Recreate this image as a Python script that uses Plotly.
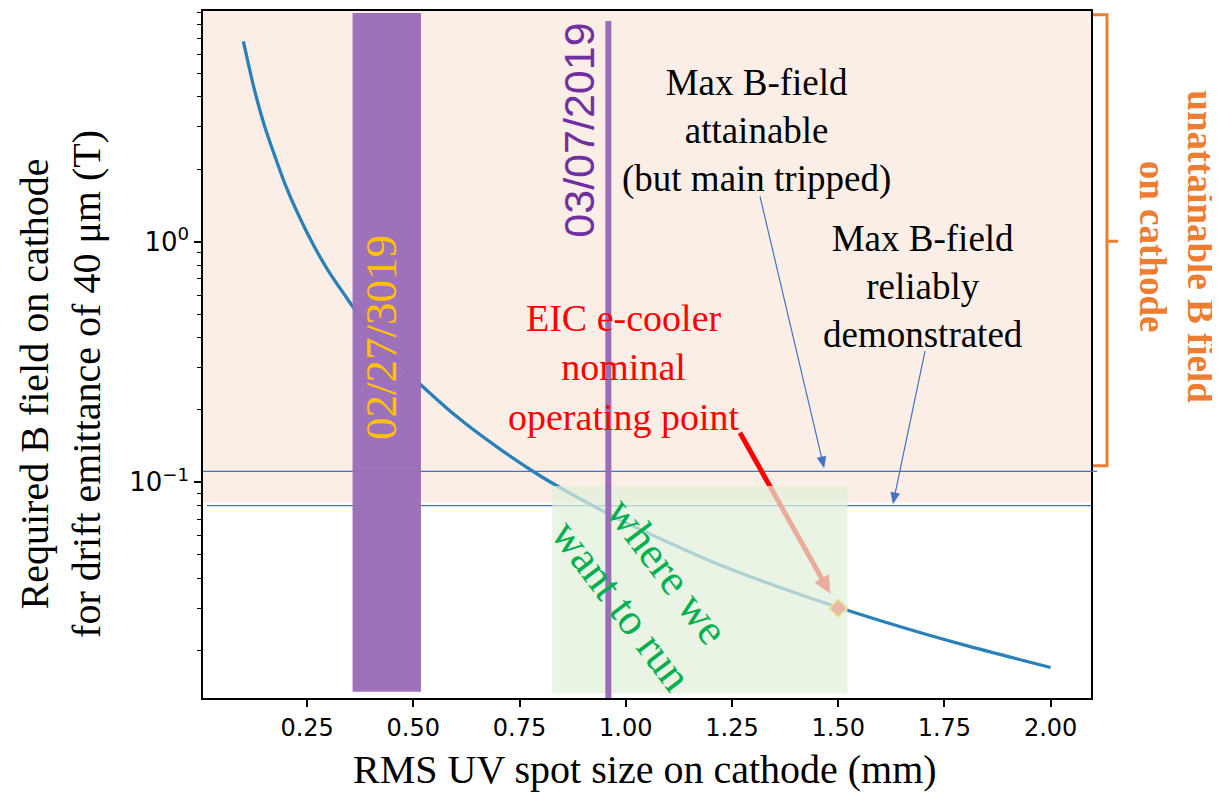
import plotly.graph_objects as go
import math

# ---------------- data ----------------
spot_mm = [0.10, 0.125, 0.15, 0.20, 0.25, 0.30, 0.40, 0.50, 0.60, 0.70,
           0.80, 0.90, 1.00, 1.20, 1.40, 1.60, 1.80, 2.00]
b_field_T = [6.8, 4.35, 3.02, 1.70, 1.09, 0.756, 0.425, 0.272, 0.189, 0.139,
             0.106, 0.084, 0.068, 0.047, 0.0347, 0.0266, 0.021, 0.017]

op_point_x = [1.50]
op_point_y = [0.030]

max_b_tripped = 0.111      # Max B-field attainable (but main tripped)
max_b_reliable = 0.080     # Max B-field reliably demonstrated

band_feb = [0.357, 0.518]  # 02/27/3019 band (x range)
line_mar = 0.959           # 03/07/2019 line
run_box_x = [0.827, 1.522]
run_box_y = [0.0133, 0.0966]

x_ticks = [0.25, 0.50, 0.75, 1.00, 1.25, 1.50, 1.75, 2.00]
y_ticks = [0.1, 1.0]
y_tick_text = ["10<sup>\u22121</sup>", "10<sup>0</sup>"]

# ---------------- layout helpers (reference pixel -> paper) ----------------
OFF = 8                     # page body margin of the html page
W, H = 1220 - OFF, 796 - OFF
L, R, T, B = 203, 1091, 9, 698   # plot area in reference (screen) pixels


def px(x):
    return (x - L) / (R - L)


def py(y):
    return (B - y) / (B - T)


SERIF = "Liberation Serif, Times New Roman, serif"
SANS = "DejaVu Sans, sans-serif"

fig = go.Figure()

fig.add_trace(go.Scatter(
    x=spot_mm, y=b_field_T, mode="lines",
    line=dict(color="#2a80b9", width=3.3, shape="spline", smoothing=0.6),
    hoverinfo="skip", showlegend=False))

fig.add_trace(go.Scatter(
    x=op_point_x, y=op_point_y, mode="markers",
    marker=dict(symbol="diamond", size=14, color="#ff2a1a",
                line=dict(color="#ffd700", width=1.5)),
    hoverinfo="skip", showlegend=False))

shapes = []
# pink "unattainable" region
shapes.append(dict(type="rect", xref="x domain", yref="y domain",
                   x0=0, x1=1, y0=py(502), y1=1, layer="below",
                   fillcolor="#FBEEE6", line=dict(width=0)))
# horizontal max-field lines
shapes.append(dict(type="line", xref="paper", yref="y", x0=0, x1=px(1097),
                   y0=max_b_tripped, y1=max_b_tripped, layer="above",
                   line=dict(color="#4472C4", width=1.3)))
shapes.append(dict(type="line", xref="x domain", yref="y", x0=px(207), x1=1,
                   y0=max_b_reliable, y1=max_b_reliable, layer="above",
                   line=dict(color="#4472C4", width=1.3)))


def arrow_shapes(sx, sy, tx, ty, color, width, hl, hw):
    dx, dy = tx - sx, ty - sy
    dl = math.hypot(dx, dy)
    ux, uy = dx / dl, dy / dl
    bx, by = tx - ux * hl, ty - uy * hl
    p1 = (bx - uy * hw, by + ux * hw)
    p2 = (bx + uy * hw, by - ux * hw)
    return [
        dict(type="line", xref="paper", yref="paper",
             x0=px(sx), y0=py(sy), x1=px(bx + ux * 1.5), y1=py(by + uy * 1.5),
             layer="above", line=dict(color=color, width=width)),
        dict(type="path", xref="paper", yref="paper", layer="above",
             path=f"M {px(tx)},{py(ty)} L {px(p1[0])},{py(p1[1])} "
                  f"L {px(p2[0])},{py(p2[1])} Z",
             fillcolor=color, line=dict(color=color, width=0.5)),
    ]


# red arrow to the operating point (covered by the green box)
shapes += arrow_shapes(740, 432, 830, 593, "#FF0000", 5, 17, 8)

# green "where we want to run" box
shapes.append(dict(type="rect", xref="x", yref="y",
                   x0=run_box_x[0], x1=run_box_x[1],
                   y0=run_box_y[0], y1=run_box_y[1], layer="above",
                   fillcolor="rgba(226,240,217,0.72)", line=dict(width=0)))
# blue arrows
shapes += arrow_shapes(760, 195, 824, 467, "#4472C4", 1.2, 11, 4.5)
shapes += arrow_shapes(925, 350, 893, 503, "#4472C4", 1.2, 11, 4.5)
# purple band and line
shapes.append(dict(type="rect", xref="x", yref="paper",
                   x0=band_feb[0], x1=band_feb[1], y0=py(691.7), y1=py(11),
                   layer="above", fillcolor="rgba(155,109,184,0.97)",
                   line=dict(width=0)))
shapes.append(dict(type="line", xref="x", yref="paper",
                   x0=line_mar, x1=line_mar, y0=py(698), y1=py(19),
                   layer="above", line=dict(color="#9B6DB8", width=6)))
# orange brace on the right
shapes.append(dict(type="path", xref="paper", yref="paper", layer="above",
                   path=(f"M {px(1093)},{py(12.7)} L {px(1107)},{py(12.7)} "
                         f"L {px(1107)},{py(465)} L {px(1093)},{py(465)} "
                         f"M {px(1107)},{py(240)} L {px(1118)},{py(240)}"),
                   line=dict(color="#ED7D31", width=3)))

ann = []


def text(t, x, y, size, color="black", family=SERIF, angle=0):
    ann.append(dict(text=t, x=px(x), y=py(y), xref="paper", yref="paper",
                    showarrow=False, xanchor="center", yanchor="middle",
                    textangle=angle, font=dict(family=family, size=size, color=color)))


text("02/27/3019", 381, 337, 45, "#FFC000", angle=-90)
text("03/07/2019", 579, 129, 43, "#7030A0",
     family="Liberation Sans, Arial, sans-serif", angle=-90)
text("Max B-field<br>attainable<br>(but main tripped)", 756, 129, 37)
text("Max B-field<br>reliably<br>demonstrated", 923, 285, 37)
text("EIC e-cooler<br>nominal<br>operating point", 624, 367, 38, "#FF0000")
text("where we<br>want to run", 644, 588, 44, "#00B050", angle=53)
text("<b>unattainable B field<br>on cathode</b>", 1177, 245, 37, "#ED7D31", angle=90)
text("RMS UV spot size on cathode (mm)", 645, 770, 40)
text("Required B field on cathode<br>for drift emittance of 40 \u03bcm (T)",
     61, 383, 40, angle=-90)

minor_vals = [m * 10.0 ** e for e in (-2, -1, 0) for m in range(2, 10)]

fig.update_layout(
    width=W, height=H,
    margin=dict(l=L - OFF, r=W - (R - OFF), t=T - OFF, b=H - (B - OFF), pad=0),
    paper_bgcolor="white", plot_bgcolor="rgba(0,0,0,0)",
    shapes=shapes, annotations=ann, showlegend=False,
    xaxis=dict(range=[0.005, 2.095], tickmode="array", tickvals=x_ticks,
               ticktext=[f"{v:.2f}" for v in x_ticks],
               ticks="outside", ticklen=7, tickwidth=1.5, tickcolor="black",
               showline=True, linecolor="black", linewidth=1.5, mirror=True,
               showgrid=False, zeroline=False,
               tickfont=dict(family=SANS, size=24, color="black")),
    yaxis=dict(type="log", range=[math.log10(0.0127), math.log10(9.09)],
               tickmode="array", tickvals=y_ticks, ticktext=y_tick_text,
               ticks="outside", ticklen=7, tickwidth=1.5, tickcolor="black",
               minor=dict(tickmode="array", tickvals=minor_vals, ticks="outside",
                          ticklen=4, tickwidth=1, tickcolor="black", showgrid=False),
               showline=True, linecolor="black", linewidth=1.5, mirror=True,
               showgrid=False, zeroline=False,
               tickfont=dict(family=SANS, size=26, color="black")),
)

fig.write_html("out.html")
